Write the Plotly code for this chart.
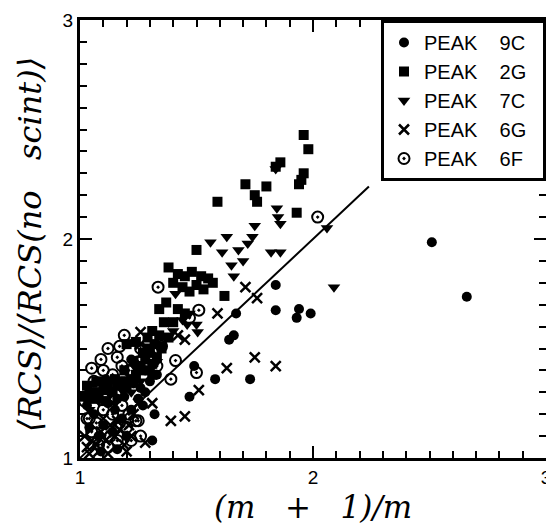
import plotly.graph_objects as go

# ---- data ----
x_9c = [2.51, 2.66, 1.84, 1.84, 1.94, 1.93, 1.99, 1.67, 1.64, 1.66, 1.73, 1.58, 1.47, 1.49, 1.32, 1.31,
        1.03, 1.06, 1.10, 1.14, 1.18, 1.22, 1.25, 1.28, 1.12, 1.16, 1.08, 1.20, 1.30, 1.26, 1.33, 1.22, 1.28,
        1.04, 1.07, 1.11, 1.15, 1.19, 1.23, 1.27, 1.09, 1.16]
y_9c = [1.985, 1.736, 1.79, 1.675, 1.68, 1.64, 1.66, 1.66, 1.54, 1.56, 1.36, 1.36, 1.28, 1.42, 1.20, 1.08,
        1.24, 1.20, 1.15, 1.12, 1.18, 1.22, 1.27, 1.30, 1.25, 1.27, 1.10, 1.10, 1.35, 1.32, 1.38, 1.45, 1.40,
        1.14, 1.30, 1.36, 1.22, 1.28, 1.34, 1.24, 1.03, 1.04]

x_2g = [1.96, 1.98, 1.86, 1.84, 1.96, 1.95, 1.94, 1.71, 1.80, 1.75, 1.76, 1.59, 1.93, 1.50, 1.38,
        1.42, 1.45, 1.48, 1.52, 1.55, 1.57, 1.44, 1.47, 1.50, 1.53, 1.40, 1.62, 1.34, 1.31,
        1.02, 1.04, 1.06, 1.08, 1.10, 1.12, 1.14, 1.16, 1.18, 1.20, 1.22, 1.24, 1.26, 1.28, 1.30,
        1.32, 1.29, 1.24, 1.20, 1.27, 1.31, 1.33, 1.35, 1.38, 1.40, 1.36, 1.42, 1.45, 1.37,
        1.03, 1.07, 1.11, 1.15, 1.19, 1.23, 1.27, 1.31, 1.34]
y_2g = [2.475, 2.41, 2.35, 2.33, 2.30, 2.27, 2.25, 2.25, 2.24, 2.20, 2.17, 2.17, 2.12, 1.95, 1.87,
        1.84, 1.83, 1.85, 1.83, 1.82, 1.80, 1.78, 1.76, 1.79, 1.77, 1.80, 1.74, 1.68, 1.58,
        1.28, 1.30, 1.27, 1.29, 1.31, 1.33, 1.30, 1.33, 1.35, 1.32, 1.36, 1.38, 1.42, 1.45, 1.48,
        1.52, 1.55, 1.53, 1.52, 1.40, 1.43, 1.46, 1.50, 1.55, 1.62, 1.62, 1.68, 1.66, 1.71,
        1.33, 1.35, 1.26, 1.36, 1.40, 1.44, 1.48, 1.38, 1.56]

x_7c = [2.09, 2.06, 1.845, 1.86, 1.85, 1.82, 1.86, 1.75, 1.74, 1.72, 1.63, 1.56, 1.61, 1.68, 1.70,
        1.66, 1.65, 1.84, 1.505, 1.46, 1.41,
        1.04, 1.08, 1.13, 1.18, 1.22, 1.26, 1.30, 1.27, 1.33, 1.38, 1.40, 1.44, 1.47, 1.50,
        1.06, 1.10, 1.15, 1.20, 1.24, 1.29, 1.35]
y_7c = [1.78, 2.05, 2.14, 2.07, 2.10, 1.94, 1.94, 2.06, 2.01, 1.98, 2.01, 1.985, 1.94, 1.95, 1.90,
        1.83, 1.88, 2.32, 1.575, 1.61, 1.75,
        1.22, 1.26, 1.29, 1.31, 1.30, 1.35, 1.40, 1.47, 1.44, 1.62, 1.58, 1.63, 1.66, 1.61,
        1.31, 1.34, 1.25, 1.36, 1.41, 1.51, 1.52]

x_6g = [1.71, 1.76, 1.59, 1.42, 1.45, 1.75, 1.63, 1.84, 1.51, 1.45, 1.39, 1.31, 1.28, 1.26,
        1.03, 1.05, 1.07, 1.09, 1.11, 1.13, 1.15, 1.17, 1.19, 1.21, 1.23, 1.25, 1.10, 1.26,
        1.04, 1.08, 1.12, 1.16, 1.20, 1.02, 1.22]
y_6g = [1.78, 1.73, 1.66, 1.56, 1.54, 1.46, 1.41, 1.42, 1.31, 1.19, 1.17, 1.25, 1.07, 1.575,
        1.05, 1.08, 1.06, 1.12, 1.08, 1.15, 1.10, 1.13, 1.06, 1.15, 1.20, 1.25, 1.18, 1.52,
        1.02, 1.03, 1.02, 1.17, 1.03, 1.10, 1.10]

x_6f = [2.02, 1.335, 1.51, 1.47, 1.41, 1.50, 1.39, 1.05, 1.12, 1.17, 1.19, 1.26, 1.35, 1.04, 1.25,
        1.03, 1.05, 1.08, 1.10, 1.12, 1.14, 1.16, 1.18, 1.20, 1.22, 1.24, 1.06, 1.10, 1.14, 1.18,
        1.21, 1.25, 1.30, 1.33, 1.02, 1.07, 1.13, 1.17, 1.21, 1.26, 1.09, 1.16]
y_6f = [2.10, 1.78, 1.675, 1.64, 1.445, 1.39, 1.36, 1.41, 1.50, 1.51, 1.56, 1.50, 1.51, 1.18, 1.17,
        1.18, 1.12, 1.06, 1.22, 1.05, 1.20, 1.08, 1.24, 1.14, 1.08, 1.17, 1.35, 1.40, 1.38, 1.42,
        1.40, 1.44, 1.47, 1.42, 1.26, 1.16, 1.10, 1.16, 1.20, 1.10, 1.45, 1.46]

line_x = [1.0, 2.24]
line_y = [1.0, 2.24]

NB = "\u00a0"
legend_names = ["PEAK" + NB * 4 + s + NB * 2 for s in ["9C", "2G", "7C", "6G", "6F"]]
x_title = "(m" + NB * 3 + "+" + NB * 3 + "1)/m"
y_title = "\u27e8RCS\u27e9/\u27e8RCS(no" + NB * 3 + "scint)\u27e9"

# layout geometry (the page body adds an 8px offset)
OFF = 8
W, H = 554 - OFF, 524 - OFF
ML, MR, MT, MB = 80 - OFF, 8, 20 - OFF, 66
PW, PH = W - ML - MR, H - MT - MB


def py2paper(sy):
    return 1 - (sy - OFF - MT) / PH


def px2paper(sx):
    return (sx - OFF - ML) / PW


fig = go.Figure()
fig.add_trace(go.Scatter(x=line_x, y=line_y, mode="lines", line=dict(color="black", width=2),
                         showlegend=False, hoverinfo="skip"))
specs = [
    (x_9c, y_9c, dict(symbol="circle", size=10, color="black")),
    (x_2g, y_2g, dict(symbol="square", size=10, color="black")),
    (x_7c, y_7c, dict(symbol="triangle-down", size=11, color="black")),
    (x_6g, y_6g, dict(symbol="x-thin", size=10, color="black", line=dict(color="black", width=2.5))),
    (x_6f, y_6f, dict(symbol="circle-open-dot", size=11, color="black", line=dict(color="black", width=2))),
]
for (xs, ys, mk), name in zip(specs, legend_names):
    fig.add_trace(go.Scatter(x=xs, y=ys, mode="markers", name=name, marker=mk))

fig.update_layout(
    template="none",
    width=W, height=H,
    margin=dict(l=ML, r=MR, t=MT, b=MB),
    paper_bgcolor="white", plot_bgcolor="white",
    legend=dict(x=1, y=1, xanchor="right", yanchor="top", bgcolor="white",
                bordercolor="black", borderwidth=3,
                font=dict(family="Liberation Sans, Arial", size=20, color="black")),
    annotations=[
        dict(text=x_title, xref="paper", yref="paper", x=px2paper(313), y=py2paper(507),
             xanchor="center", yanchor="middle", showarrow=False,
             font=dict(family="DejaVu Serif", size=31, color="black", style="italic")),
        dict(text=y_title, xref="paper", yref="paper", x=px2paper(30), y=py2paper(245),
             xanchor="center", yanchor="middle", showarrow=False, textangle=-90,
             font=dict(family="DejaVu Serif", size=32, color="black", style="italic")),
    ],
)
for upd in (fig.update_xaxes, fig.update_yaxes):
    upd(range=[1, 3], showline=True, linecolor="black", linewidth=3, mirror="ticks",
        ticks="inside", ticklen=12, tickwidth=2, tickcolor="black", dtick=1,
        gridcolor="rgba(0,0,0,0)", zerolinecolor="rgba(0,0,0,0)",
        tickfont=dict(family="Liberation Sans, Arial", size=19, color="black"),
        minor=dict(ticks="inside", ticklen=7, tickwidth=2, tickcolor="black", dtick=0.1))

fig.write_html("out.html")
